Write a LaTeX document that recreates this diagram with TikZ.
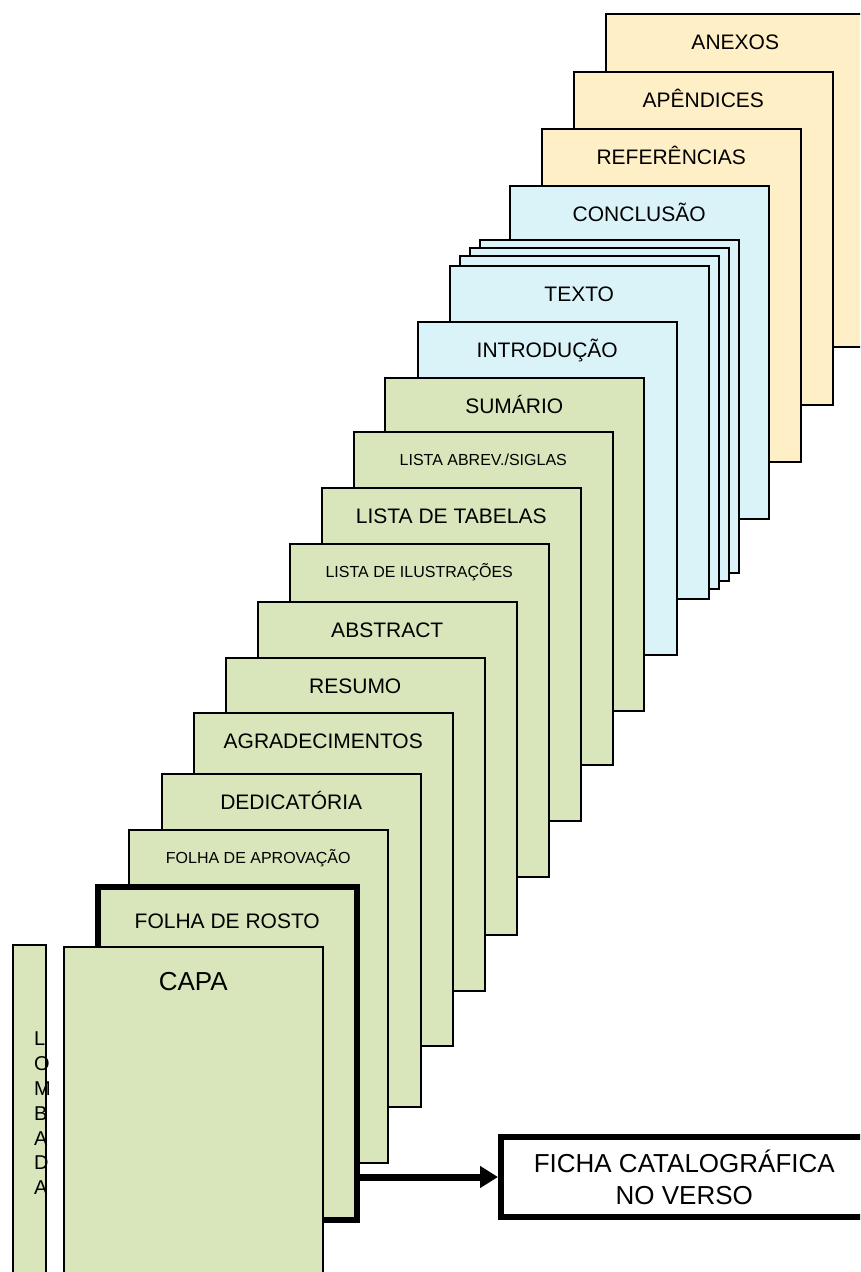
\documentclass[tikz,border=0pt]{standalone}
\usepackage{fontspec}
\setmainfont{Liberation Sans}
\usetikzlibrary{positioning,arrows.meta}
\definecolor{folhaverde}{HTML}{D9E5BA}
\definecolor{folhaazul}{HTML}{DAF3F8}
\definecolor{folhacreme}{HTML}{FFEFC6}

\begin{document}
\begin{tikzpicture}[x=1pt, y=-1pt,
  folha/.style={draw, line width=1.5pt, minimum width=259pt, minimum height=333pt, anchor=north west, inner sep=0pt},
  titulo/.style={label={[anchor=base,yshift=-36pt,font=\fontsize{21}{25}\selectfont]north:#1}},
  miudo/.style={label={[anchor=base,yshift=-34pt,font=\fontsize{16}{19}\selectfont]north:#1}}]
  \clip (0,0) rectangle (860,1272);
  % pos-textuais
  \node[folha,fill=folhacreme,titulo=ANEXOS] (anexos) at (605,13) {};
  \node[folha,fill=folhacreme,titulo=APÊNDICES] (apendices) at (573,71) {};
  \node[folha,fill=folhacreme,titulo=REFERÊNCIAS] (referencias) at (541,128) {};
  % textuais
  \node[folha,fill=folhaazul,titulo=CONCLUSÃO] (conclusao) at (509,185) {};
  \node[folha,fill=folhaazul] (textoc) at (479,239) {};
  \node[folha,fill=folhaazul] (textob) at (469,247) {};
  \node[folha,fill=folhaazul] (textoa) at (459,255) {};
  \node[folha,fill=folhaazul,titulo=TEXTO] (texto) at (449,265) {};
  \node[folha,fill=folhaazul,titulo=INTRODUÇÃO] (introducao) at (417,321) {};
  % pre-textuais
  \node[folha,fill=folhaverde,titulo=SUMÁRIO] (sumario) at (384,377) {};
  \node[folha,fill=folhaverde,miudo=LISTA ABREV./SIGLAS] (siglas) at (353,431) {};
  \node[folha,fill=folhaverde,titulo=LISTA DE TABELAS] (tabelas) at (321,487) {};
  \node[folha,fill=folhaverde,miudo=LISTA DE ILUSTRAÇÕES] (ilustracoes) at (289,543) {};
  \node[folha,fill=folhaverde,titulo=ABSTRACT] (abstract) at (257,601) {};
  \node[folha,fill=folhaverde,titulo=RESUMO] (resumo) at (225,657) {};
  \node[folha,fill=folhaverde,titulo=AGRADECIMENTOS] (agradecimentos) at (193,712) {};
  \node[folha,fill=folhaverde,titulo=DEDICATÓRIA] (dedicatoria) at (161,773) {};
  \node[folha,fill=folhaverde,miudo=FOLHA DE APROVAÇÃO] (aprovacao) at (128,829) {};
  \node[folha,fill=folhaverde,line width=5.5pt,label={[anchor=base,yshift=-44pt,font=\fontsize{21}{25}\selectfont]north:FOLHA DE ROSTO}] (rosto) at (95,884) {};
  \node[folha,fill=folhaverde,label={[anchor=base,yshift=-44pt,font=\fontsize{26}{31}\selectfont]north:CAPA}] (capa) at (63,946) {};
  % lombada
  \node[draw,line width=1.5pt,fill=folhaverde,anchor=north west,minimum width=33pt,minimum height=340pt] (lombada) at (12,944) {};
  \node[anchor=north west,inner sep=0pt,align=left,font=\fontsize{20}{24.8}\selectfont] (letras) at (34,1032) {L\\O\\M\\B\\A\\D\\A};
  % ficha
  \node[draw,line width=5.5pt,anchor=west,minimum width=367pt,minimum height=80pt,align=center,font=\fontsize{26}{32}\selectfont] (ficha) at (498,1177) {FICHA CATALOGRÁFICA\\NO VERSO};
  \draw[line width=7pt,-{Triangle[length=18pt,width=21pt]}] (ficha.west -| rosto.east) -- (ficha.west);
\end{tikzpicture}
\end{document}
